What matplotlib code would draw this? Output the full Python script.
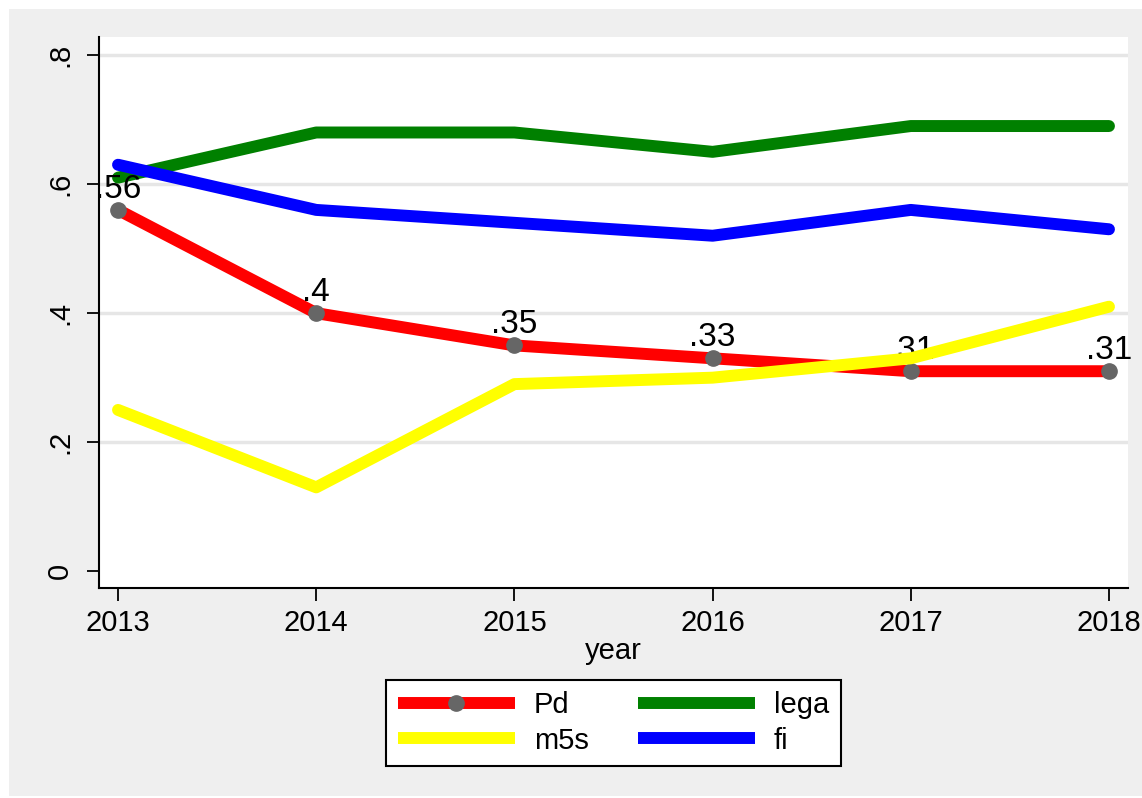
import matplotlib.pyplot as plt
from matplotlib.patches import Rectangle

plt.rcParams['font.family'] = ['Liberation Sans', 'DejaVu Sans']

years = [2013, 2014, 2015, 2016, 2017, 2018]
pd_share = [0.56, 0.40, 0.35, 0.33, 0.31, 0.31]
lega_share = [0.61, 0.68, 0.68, 0.65, 0.69, 0.69]
m5s_share = [0.25, 0.13, 0.29, 0.30, 0.33, 0.41]
fi_share = [0.63, 0.56, 0.54, 0.52, 0.56, 0.53]
pd_labels = ['.56', '.4', '.35', '.33', '.31', '.31']
ytick_vals = [0, 0.2, 0.4, 0.6, 0.8]
ytick_labels = ['0', '.2', '.4', '.6', '.8']

W, H = 1142, 798
fig = plt.figure(figsize=(W / 100, H / 100), dpi=100)
fig.patch.set_facecolor('white')
# stata-like gray graph region
fig.patches.append(Rectangle((9 / W, 2 / H), 1 - 9 / W, 1 - 11 / H,
                             transform=fig.transFigure, facecolor='#efefef',
                             edgecolor='none', zorder=-10))

ax = fig.add_axes([99 / W, 1 - 588 / H, (1128 - 99) / W, (588 - 37) / H])
ax.set_facecolor('white')

lw = 8.6
pd_line, = ax.plot(years, pd_share, color='#ff0000', lw=lw, marker='o',
                   markersize=11, markerfacecolor='#666666',
                   markeredgecolor='#666666', solid_capstyle='round', zorder=3)
lega_line, = ax.plot(years, lega_share, color='#008000', lw=lw,
                     solid_capstyle='round', zorder=4)
m5s_line, = ax.plot(years, m5s_share, color='#ffff00', lw=lw,
                    solid_capstyle='round', zorder=5)
fi_line, = ax.plot(years, fi_share, color='#0000ff', lw=lw,
                   solid_capstyle='round', zorder=6)

for x, y, t in zip(years, pd_share, pd_labels):
    ax.annotate(t, (x, y), xytext=(0, 8.6), textcoords='offset points',
                ha='center', va='baseline', fontsize=24, zorder=4)

ax.set_xlim(2012.904, 2018.096)
ax.set_ylim(-0.026, 0.828)
ax.set_xticks(years)
ax.set_yticks(ytick_vals)
ax.set_yticklabels(ytick_labels, rotation=90, va='center')
ax.tick_params(axis='both', labelsize=21, length=9, width=1.3, pad=6)
ax.tick_params(axis='y', pad=9)

for v in ytick_vals[1:]:
    ax.axhline(v, color='#e6e6e6', lw=2.5, zorder=1)

for s in ['top', 'right']:
    ax.spines[s].set_visible(False)
for s in ['left', 'bottom']:
    ax.spines[s].set_linewidth(1.5)

ax.set_xlabel('year', fontsize=21, labelpad=0)

leg = fig.legend([pd_line, m5s_line, lega_line, fi_line],
                 ['Pd', 'm5s', 'lega', 'fi'], ncol=2,
                 loc='center', bbox_to_anchor=((99 + 1128) / 2 / W, 1 - 723 / H),
                 fontsize=21, frameon=True, fancybox=False, framealpha=1,
                 handlelength=4.0, columnspacing=1.7, handletextpad=0.65,
                 labelspacing=0.25, borderpad=0.4, borderaxespad=0)
leg.get_frame().set_edgecolor('black')
leg.get_frame().set_linewidth(1.5)
for ln in leg.get_lines():
    ln.set_solid_capstyle('butt')

fig.savefig('out.png', dpi=100, facecolor=fig.get_facecolor())
